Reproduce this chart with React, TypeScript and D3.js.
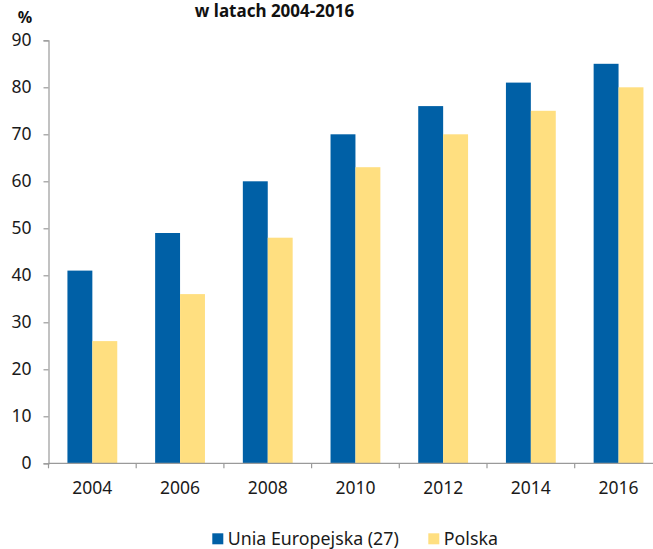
import React, { useEffect, useRef } from "react";
import * as d3 from "d3";

const years = ["2004", "2006", "2008", "2010", "2012", "2014", "2016"];
const unia = [41, 49, 60, 70, 76, 81, 85];
const polska = [26, 36, 48, 63, 70, 75, 80];
const seriesNames = ["Unia Europejska (27)", "Polska"];
const seriesColors = ["#0060a6", "#ffdf80"];
const yTicks = [0, 10, 20, 30, 40, 50, 60, 70, 80, 90];

const W = 653, H = 549;
const font = "'Noto Sans', 'Open Sans', sans-serif";

export default function App() {
  const ref = useRef<SVGSVGElement>(null);

  useEffect(() => {
    document.body.style.margin = "0";
    const svg = d3.select(ref.current);
    svg.selectAll("*").remove();

    const x0 = d3.scaleBand().domain(years).range([48.5, 662.4]).padding(0);
    const x1 = d3.scaleBand().domain(seriesNames).range([0, x0.bandwidth()]).paddingInner(0).paddingOuter(0.76);
    const y = d3.scaleLinear().domain([0, 90]).range([463.3, 40.3]);

    const rows = years.map((yr, i) => ({ yr, vals: [unia[i], polska[i]] }));

    // bars
    svg.append("g")
      .selectAll("g")
      .data(rows)
      .join("g")
      .attr("transform", d => `translate(${x0(d.yr)},0)`)
      .selectAll("rect")
      .data(d => d.vals.map((v, k) => ({ v, k })))
      .join("rect")
      .attr("x", d => x1(seriesNames[d.k])!)
      .attr("width", x1.bandwidth())
      .attr("y", d => y(d.v))
      .attr("height", d => y(0) - y(d.v))
      .attr("fill", d => seriesColors[d.k]);

    // y axis
    const yAxis = svg.append("g")
      .attr("transform", "translate(48.5,0)")
      .call(d3.axisLeft(y).tickValues(yTicks).tickSize(5).tickSizeOuter(5).tickPadding(12));
    yAxis.selectAll("path,line").attr("stroke", "#9a9a9a").attr("stroke-width", 1.2);
    yAxis.selectAll("text")
      .attr("font-family", font)
      .attr("font-size", 17.5)
      .attr("fill", "#1a1a1a");

    // x axis
    const xg = svg.append("g");
    xg.append("line")
      .attr("x1", 48.5).attr("x2", W)
      .attr("y1", y(0)).attr("y2", y(0))
      .attr("stroke", "#9a9a9a").attr("stroke-width", 1.2);
    xg.selectAll("line.tk")
      .data(years)
      .join("line")
      .attr("class", "tk")
      .attr("x1", d => x0(d)!).attr("x2", d => x0(d)!)
      .attr("y1", y(0)).attr("y2", y(0) + 5)
      .attr("stroke", "#9a9a9a").attr("stroke-width", 1.2);
    xg.selectAll("text")
      .data(years)
      .join("text")
      .attr("x", d => x0(d)! + x0.bandwidth() / 2)
      .attr("y", 493.5)
      .attr("text-anchor", "middle")
      .attr("font-family", font)
      .attr("font-size", 17.5)
      .attr("fill", "#1a1a1a")
      .text(d => d);

    // title and unit
    svg.append("text")
      .attr("x", 274.5).attr("y", 17)
      .attr("text-anchor", "middle")
      .attr("font-family", font)
      .attr("font-weight", "bold")
      .attr("font-size", 17)
      .attr("fill", "#111")
      .text("w latach 2004-2016");
    svg.append("text")
      .attr("x", 25).attr("y", 23)
      .attr("text-anchor", "middle")
      .attr("font-family", font)
      .attr("font-weight", "bold")
      .attr("font-size", 16)
      .attr("fill", "#111")
      .text("%");

    // legend
    const legendX = [212.3, 428.3];
    const lg = svg.append("g")
      .selectAll("g")
      .data(seriesNames)
      .join("g")
      .attr("transform", (d, i) => `translate(${legendX[i]},533.3)`);
    lg.append("rect")
      .attr("width", 11).attr("height", 11)
      .attr("fill", (d, i) => seriesColors[i]);
    lg.append("text")
      .attr("x", 15.5).attr("y", 11.7)
      .attr("font-family", font)
      .attr("font-size", 17.8)
      .attr("fill", "#1a1a1a")
      .text(d => d);
  }, []);

  return (
    <svg ref={ref} width={W} height={H} style={{ position: "absolute", left: 0, top: 0, background: "#fff" }} />
  );
}
